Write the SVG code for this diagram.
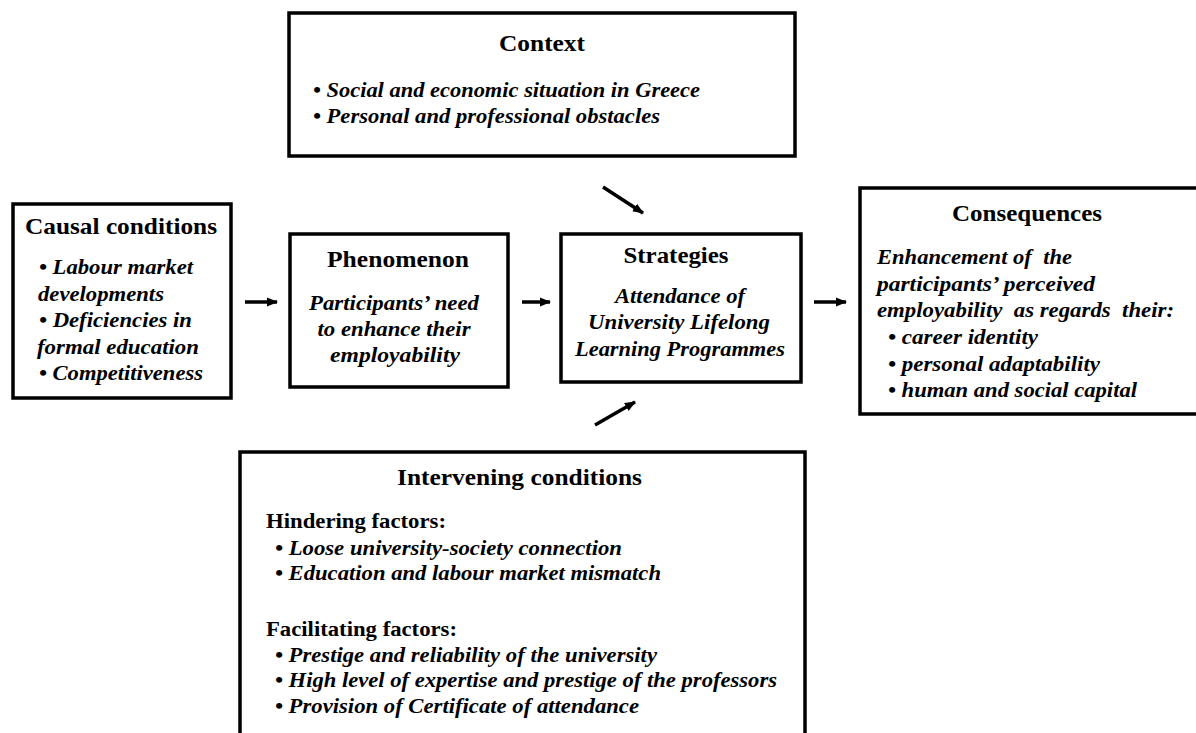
<svg xmlns="http://www.w3.org/2000/svg" width="1196" height="733" viewBox="0 0 1196 733">
  <style>
    .box { fill: #ffffff; stroke: #000000; stroke-width: 3.5; }
    .title { font-family: "Liberation Serif", "Times New Roman", serif; font-weight: bold; font-size: 23px; fill: #000; }
    .head { font-family: "Liberation Serif", "Times New Roman", serif; font-weight: bold; font-size: 20.5px; fill: #000; }
    .item { font-family: "Liberation Serif", "Times New Roman", serif; font-weight: bold; font-style: italic; font-size: 20.5px; fill: #000; white-space: pre; }
    .mid { text-anchor: middle; }
    .conn { stroke: #000000; stroke-width: 3.5; fill: none; marker-end: url(#head); }
  </style>
  <defs>
    <marker id="head" markerUnits="userSpaceOnUse" markerWidth="12" markerHeight="12" viewBox="0 0 12 12" refX="10" refY="6" orient="auto">
      <path d="M0,1.5 L11,6 L0,10.5 Z" fill="#000000"/>
    </marker>
  </defs>
  <rect width="1196" height="733" fill="#ffffff"/>

  <g id="context">
    <rect class="box" x="289" y="13" width="506" height="143"/>
    <text class="title mid" x="542" y="51" textLength="86" lengthAdjust="spacingAndGlyphs">Context</text>
    <text class="item" x="313" y="97" textLength="387" lengthAdjust="spacingAndGlyphs">• Social and economic situation in Greece</text>
    <text class="item" x="313" y="123" textLength="347" lengthAdjust="spacingAndGlyphs">• Personal and professional obstacles</text>
  </g>

  <g id="causal-conditions">
    <rect class="box" x="13" y="204" width="218" height="194"/>
    <text class="title mid" x="121" y="234" textLength="192" lengthAdjust="spacingAndGlyphs">Causal conditions</text>
    <text class="item" x="39" y="274" textLength="154" lengthAdjust="spacingAndGlyphs">• Labour market</text>
    <text class="item" x="38" y="301" textLength="126" lengthAdjust="spacingAndGlyphs">developments</text>
    <text class="item" x="39" y="327" textLength="153" lengthAdjust="spacingAndGlyphs">• Deficiencies in</text>
    <text class="item" x="37" y="354" textLength="162" lengthAdjust="spacingAndGlyphs">formal education</text>
    <text class="item" x="39" y="380" textLength="164" lengthAdjust="spacingAndGlyphs">• Competitiveness</text>
  </g>

  <g id="phenomenon">
    <rect class="box" x="290" y="234" width="218" height="153"/>
    <text class="title mid" x="398" y="267" textLength="142" lengthAdjust="spacingAndGlyphs">Phenomenon</text>
    <text class="item mid" x="394" y="310" textLength="170" lengthAdjust="spacingAndGlyphs">Participants’ need</text>
    <text class="item mid" x="394" y="336" textLength="153" lengthAdjust="spacingAndGlyphs">to enhance their</text>
    <text class="item mid" x="395" y="362" textLength="130" lengthAdjust="spacingAndGlyphs">employability</text>
  </g>

  <g id="strategies">
    <rect class="box" x="561" y="234" width="240" height="148"/>
    <text class="title mid" x="676" y="263" textLength="105" lengthAdjust="spacingAndGlyphs">Strategies</text>
    <text class="item mid" x="680" y="303" textLength="130" lengthAdjust="spacingAndGlyphs">Attendance of</text>
    <text class="item mid" x="679" y="329" textLength="182" lengthAdjust="spacingAndGlyphs">University Lifelong</text>
    <text class="item mid" x="680" y="356" textLength="210" lengthAdjust="spacingAndGlyphs">Learning Programmes</text>
  </g>

  <g id="consequences">
    <rect class="box" x="860" y="188" width="345" height="226"/>
    <text class="title mid" x="1027" y="221" textLength="150" lengthAdjust="spacingAndGlyphs">Consequences</text>
    <text class="item" x="877" y="264" textLength="195" lengthAdjust="spacingAndGlyphs">Enhancement of  the</text>
    <text class="item" x="877" y="291" textLength="218" lengthAdjust="spacingAndGlyphs">participants’ perceived</text>
    <text class="item" x="877" y="317" textLength="297" lengthAdjust="spacingAndGlyphs">employability  as regards  their:</text>
    <text class="item" x="888" y="344" textLength="150" lengthAdjust="spacingAndGlyphs">• career identity</text>
    <text class="item" x="888" y="371" textLength="212" lengthAdjust="spacingAndGlyphs">• personal adaptability</text>
    <text class="item" x="888" y="397" textLength="249" lengthAdjust="spacingAndGlyphs">• human and social capital</text>
  </g>

  <g id="intervening-conditions">
    <rect class="box" x="240" y="452" width="565" height="300"/>
    <text class="title mid" x="519.5" y="485" textLength="245" lengthAdjust="spacingAndGlyphs">Intervening conditions</text>
    <text class="head" x="266" y="528" textLength="180" lengthAdjust="spacingAndGlyphs">Hindering factors:</text>
    <text class="item" x="275" y="555" textLength="347" lengthAdjust="spacingAndGlyphs">• Loose university-society connection</text>
    <text class="item" x="275" y="580" textLength="386" lengthAdjust="spacingAndGlyphs">• Education and labour market mismatch</text>
    <text class="head" x="266" y="636" textLength="191" lengthAdjust="spacingAndGlyphs">Facilitating factors:</text>
    <text class="item" x="275" y="662" textLength="382" lengthAdjust="spacingAndGlyphs">• Prestige and reliability of the university</text>
    <text class="item" x="275" y="687" textLength="502" lengthAdjust="spacingAndGlyphs">• High level of expertise and prestige of the professors</text>
    <text class="item" x="275" y="713" textLength="364" lengthAdjust="spacingAndGlyphs">• Provision of Certificate of attendance</text>
  </g>

  <g id="connectors">
    <line class="conn" x1="245" y1="302" x2="277" y2="302"/>
    <line class="conn" x1="522" y1="302" x2="550" y2="302"/>
    <line class="conn" x1="814" y1="302" x2="846" y2="302"/>
    <line class="conn" x1="603" y1="187" x2="643" y2="213"/>
    <line class="conn" x1="595" y1="425" x2="635" y2="402"/>
  </g>
</svg>
